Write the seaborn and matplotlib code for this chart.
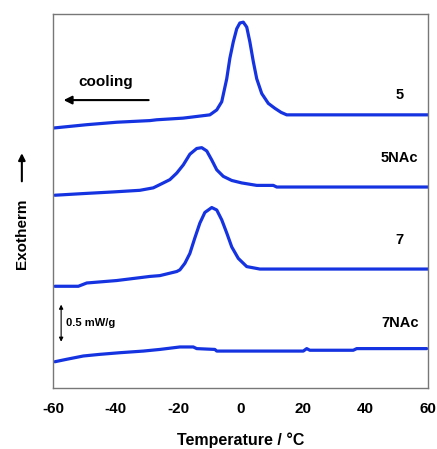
import numpy as np
import pandas as pd
import seaborn as sns
import matplotlib
matplotlib.use("Agg")
import matplotlib.pyplot as plt

# DSC cooling traces (temperature in C, heat flow in mW/g incl. vertical offset)
t_5 = [-59.7, -49.2, -39.6, -29.0, -26.8, -18.4, -16.2, -9.8, -7.6, -6.0, -4.4, -3.4, -2.3, -1.2,
       -0.2, 0.9, 2.0, 3.0, 4.1, 5.2, 6.8, 8.9, 11.0, 13.0, 14.8, 19.0, 60.0]
y_5 = [3.17, 3.21, 3.24, 3.26, 3.27, 3.29, 3.30, 3.33, 3.39, 3.49, 3.77, 4.02, 4.22, 4.38,
       4.45, 4.46, 4.40, 4.22, 3.98, 3.77, 3.59, 3.47, 3.41, 3.36, 3.33, 3.33, 3.33]

t_5nac = [-59.4, -50.4, -40.8, -32.2, -27.9, -24.7, -22.6, -20.4, -18.3, -16.2, -14.0, -12.4,
          -10.8, -9.2, -7.6, -5.5, -2.8, 0.4, 5.2, 10.5, 11.6, 60.0]
y_5nac = [2.35, 2.37, 2.39, 2.41, 2.44, 2.50, 2.54, 2.62, 2.72, 2.85, 2.92, 2.93,
          2.89, 2.78, 2.66, 2.58, 2.53, 2.50, 2.47, 2.47, 2.45, 2.45]

t_7 = [-59.4, -51.9, -49.2, -39.6, -29.0, -25.8, -20.4, -19.4, -17.8, -16.2, -14.6, -13.0,
       -11.4, -9.2, -7.6, -6.0, -4.4, -2.8, -0.7, 2.0, 6.2, 12.6, 60.0]
y_7 = [1.24, 1.24, 1.28, 1.31, 1.36, 1.37, 1.42, 1.44, 1.52, 1.64, 1.83, 2.01,
       2.14, 2.20, 2.17, 2.05, 1.89, 1.72, 1.58, 1.48, 1.45, 1.45, 1.45]

t_7nac = [-59.4, -55.6, -50.3, -45.0, -38.6, -31.1, -25.8, -19.4, -15.1, -14.0, -8.2, -7.6,
          20.1, 21.2, 22.2, 36.1, 37.2, 59.6]
y_7nac = [0.32, 0.35, 0.39, 0.41, 0.43, 0.45, 0.47, 0.50, 0.50, 0.48, 0.47, 0.45,
          0.45, 0.48, 0.46, 0.46, 0.48, 0.48]

names = ["5", "5NAc", "7", "7NAc"]
label_y = [3.57, 2.81, 1.80, 0.79]
x_ticks = [-60, -40, -20, 0, 20, 40, 60]

frames = []
for name, t, y in zip(names, [t_5, t_5nac, t_7, t_7nac], [y_5, y_5nac, y_7, y_7nac]):
    frames.append(pd.DataFrame({"T": t, "q": y, "sample": name}))
df = pd.concat(frames, ignore_index=True)

sns.set_style("white")
plt.rcParams['font.family'] = ['Liberation Sans', 'DejaVu Sans']
plt.rcParams['text.color'] = 'black'
plt.rcParams['xtick.color'] = 'black'
plt.rcParams['axes.labelcolor'] = 'black'
plt.rcParams['lines.solid_joinstyle'] = 'round'
plt.rcParams['lines.solid_capstyle'] = 'round'

fig = plt.figure(figsize=(4.37, 4.49), dpi=100)
ax = fig.add_axes([0.1213, 0.1359, 0.858, 0.833])

blue = "#1533e0"
for name in names:
    sns.lineplot(data=df[df["sample"] == name], x="T", y="q", sort=False,
                 color=blue, linewidth=2.3, ax=ax, legend=False)

ax.set_xlim(-60, 60)
ax.set_ylim(0, 4.56)
ax.set_xticks(x_ticks)
ax.set_xticklabels([str(v) for v in x_ticks], fontsize=11, fontweight='bold')
ax.set_yticks([])
ax.tick_params(axis='x', length=0, pad=10)
ax.set_xlabel("Temperature / \u00b0C", fontsize=11.5, fontweight='bold', labelpad=12)
ax.set_ylabel("")
for s in ax.spines.values():
    s.set_color("#777777")
    s.set_linewidth(1.0)

for name, ly in zip(names, label_y):
    ax.text(51, ly, name, ha='center', va='center', fontsize=10.5, fontweight='bold')

# cooling arrow
ax.annotate("", xy=(-57.5, 3.51), xytext=(-28.5, 3.51),
            arrowprops=dict(arrowstyle="-|>", color="black", lw=1.5, mutation_scale=12))
ax.text(-43, 3.73, "cooling", ha='center', va='center', fontsize=11, fontweight='bold')

# scale bar
ax.annotate("", xy=(-57.4, 1.05), xytext=(-57.4, 0.53),
            arrowprops=dict(arrowstyle="<|-|>", color="black", lw=0.8, mutation_scale=6))
ax.text(-56.0, 0.79, "0.5 mW/g", ha='left', va='center', fontsize=8, fontweight='bold')

# Exotherm label with arrow
fig.text(0.05, 0.48, "Exotherm", rotation=90, ha='center', va='center',
         fontsize=11, fontweight='bold')
fig.patches.append(matplotlib.patches.FancyArrowPatch(
    (0.05, 0.59), (0.05, 0.665), transform=fig.transFigure, arrowstyle="-|>",
    mutation_scale=10, color="black", lw=1.5))

fig.savefig("out.png", dpi=100)
